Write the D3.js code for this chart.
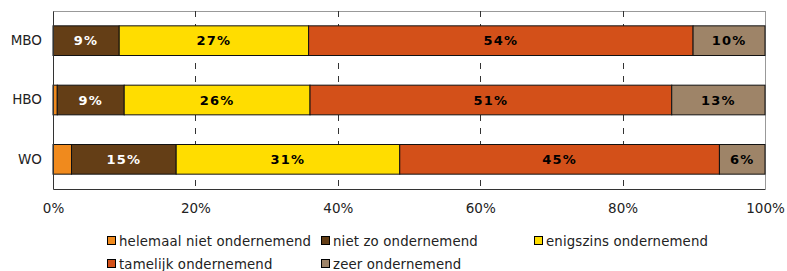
<!DOCTYPE html>
<html><head><meta charset="utf-8">
<script src="https://cdn.jsdelivr.net/npm/d3@7"></script>
<style>body{margin:0;background:#fff}svg{display:block}</style>
</head><body>
<script>
const categories = ["MBO", "HBO", "WO"];
const seriesNames = ["helemaal niet ondernemend", "niet zo ondernemend", "enigszins ondernemend", "tamelijk ondernemend", "zeer ondernemend"];
const helemaal = [0, 0.6, 2.6];
const nietZo = [9.3, 9.4, 14.7];
const enigszins = [26.6, 26.1, 31.4];
const tamelijk = [54.0, 50.8, 44.9];
const zeer = [10.1, 13.1, 6.4];
const labels = [
  ["", "9%", "27%", "54%", "10%"],
  ["", "9%", "26%", "51%", "13%"],
  ["", "15%", "31%", "45%", "6%"]
];
const colors = ["#F08A1D", "#643E16", "#FFDD00", "#D35019", "#9E8468"];
const labelColors = ["#000", "#fff", "#000", "#000", "#000"];
const ticks = [0, 20, 40, 60, 80, 100];

const W = 787, H = 271;
const m = {left: 53, right: 22, top: 11, bottom: 82};
const svg = d3.select("body").append("svg").attr("width", W).attr("height", H);
const x = d3.scaleLinear().domain([0, 100]).range([m.left, W - m.right]);
const y = d3.scaleBand().domain(categories).range([m.top, H - m.bottom]).paddingInner(0.5).paddingOuter(0.25);

const series = [helemaal, nietZo, enigszins, tamelijk, zeer];
const font = "Verdana, 'DejaVu Sans', sans-serif";

svg.append("line").attr("x1", x(0)).attr("x2", x(100)).attr("y1", m.top + 0.5).attr("y2", m.top + 0.5).attr("stroke", "#999");
svg.append("line").attr("x1", x(100) + 0.5).attr("x2", x(100) + 0.5).attr("y1", m.top).attr("y2", H - m.bottom).attr("stroke", "#999");

svg.append("g").selectAll("line").data(ticks.slice(1, 5)).join("line")
  .attr("x1", d => Math.round(x(d)) + 0.5).attr("x2", d => Math.round(x(d)) + 0.5)
  .attr("y1", m.top).attr("y2", H - m.bottom)
  .attr("stroke", "#333").attr("stroke-dasharray", "6,7");

categories.forEach((c, i) => {
  let acc = 0;
  series.forEach((s, k) => {
    const v = s[i];
    const x0 = x(acc), x1 = x(acc + v);
    acc += v;
    if (v <= 0) return;
    svg.append("rect").attr("x", x0).attr("y", y(c)).attr("width", x1 - x0).attr("height", y.bandwidth())
      .attr("fill", colors[k]).attr("stroke", "#111").attr("stroke-width", 1);
    if (labels[i][k]) {
      svg.append("text").attr("x", (x0 + x1) / 2).attr("y", y(c) + y.bandwidth() / 2).attr("dy", "0.36em")
        .attr("text-anchor", "middle").attr("font-family", font).attr("font-weight", "bold")
        .attr("font-size", 13).attr("letter-spacing", 1.2).attr("fill", labelColors[k]).text(labels[i][k]);
    }
  });
});

const xAxis = svg.append("g").attr("transform", `translate(0,${H - m.bottom})`)
  .call(d3.axisBottom(x).tickValues(ticks).tickFormat(d => d + "%").tickSize(0).tickPadding(14));
xAxis.select(".domain").attr("stroke", "#333");
xAxis.selectAll("text").attr("font-family", font).attr("font-size", 13.5).attr("fill", "#222");

const yAxis = svg.append("g").attr("transform", `translate(${m.left},0)`)
  .call(d3.axisLeft(y).tickSize(0).tickPadding(11));
yAxis.select(".domain").attr("stroke", "#333");
yAxis.selectAll("text").attr("font-family", font).attr("font-size", 13.5).attr("fill", "#222");

const legPos = [[107, 241], [321, 241], [534, 241], [107, 264], [321, 264]];
const leg = svg.append("g");
seriesNames.forEach((n, k) => {
  const [lx, ly] = legPos[k];
  leg.append("rect").attr("x", lx + 0.5).attr("y", ly - 4.5).attr("width", 8).attr("height", 8)
    .attr("fill", colors[k]).attr("stroke", "#000").attr("stroke-width", 1);
  leg.append("text").attr("x", lx + 12).attr("y", ly).attr("dy", "0.36em")
    .attr("font-family", font).attr("font-size", 13.3).attr("letter-spacing", 0.15).attr("fill", "#222").text(n);
});
</script>
</body></html>
